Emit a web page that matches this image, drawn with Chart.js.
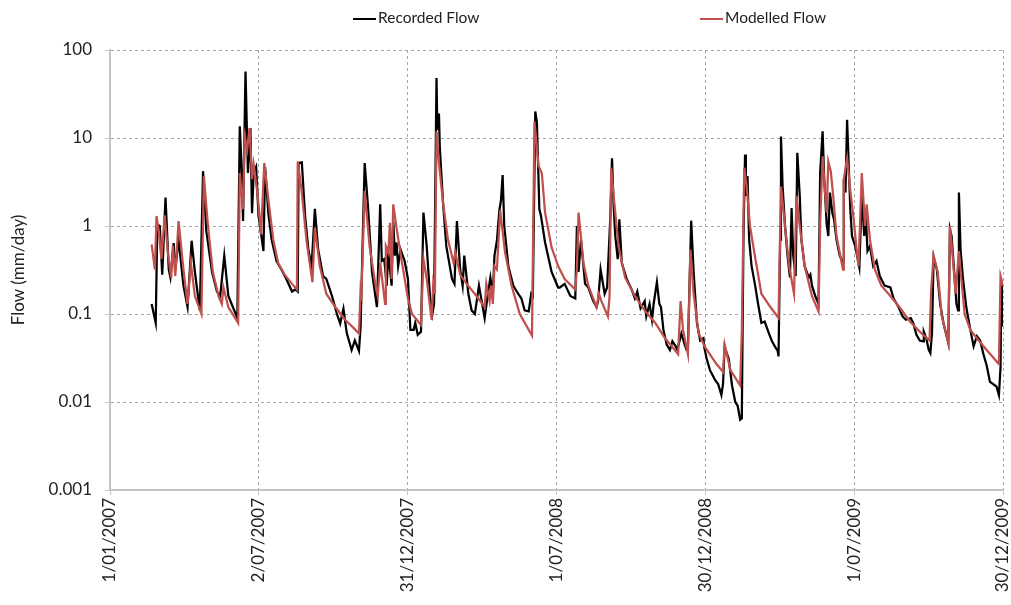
<!DOCTYPE html>
<html>
<head>
<meta charset="utf-8">
<script src="https://cdn.jsdelivr.net/npm/chart.js@4.4.1/dist/chart.umd.min.js"></script>
<style>
    body { margin: 0; background: #fff; font-family: Lato, "Noto Sans", sans-serif; }
    #wrap { position: relative; width: 1011px; height: 605px; }
    .legend-item { position: absolute; top: 8px; font-size: 15.5px; color: #222; line-height: 18px; white-space: nowrap; }
    .legend-item span.swatch { display: inline-block; width: 23px; height: 0; border-top: 2px solid; vertical-align: middle; margin-right: 2px; }
</style>
</head>
<body>
<div id="wrap">
    <canvas id="chartFlow" width="1011" height="605"></canvas>
    <div class="legend-item" style="left:353px"><span class="swatch" style="border-color:#000"></span>Recorded Flow</div>
    <div class="legend-item" style="left:700px"><span class="swatch" style="border-color:#c0504d"></span>Modelled Flow</div>
</div>
<script>
// hari sejak 1/01/2007 dan nilai aliran (mm/hari)
const recordedDays = [51, 56, 58, 61, 64, 68, 72, 74, 78, 80, 84, 90, 95, 100, 104, 110, 114, 118, 125, 131, 135, 140, 145, 149, 156,
    159, 161, 163, 166, 169, 172, 174, 176, 179, 182, 188, 190, 194, 198, 204, 210, 216, 223, 227, 230, 231, 235, 239, 243, 247,
    251, 255, 261, 265, 272, 278, 282, 286, 290, 296, 300, 305, 307, 310, 312, 316, 321, 327, 331, 333, 336, 339, 341, 345, 347,
    349, 351, 353, 356, 361, 365, 368, 372, 374, 377, 381, 384, 388, 392, 395, 397, 400, 401, 403, 404, 408, 412, 419, 422, 425,
    429, 432, 434, 439, 443, 447, 452, 456, 459, 463, 466, 469, 471, 474, 477, 479, 481, 483, 488, 494, 500, 504, 508, 513, 516,
    518, 521, 523, 526, 528, 533, 541, 549, 551, 557, 564, 570, 572, 574, 577, 582, 586, 592, 596, 598, 601, 606, 609, 613, 615,
    617, 619, 622, 624, 627, 633, 639, 643, 646, 650, 655, 657, 661, 664, 666, 670, 673, 675, 678, 682, 686, 689, 693, 695, 700,
    704, 706, 708, 712, 715, 719, 723, 727, 728, 731, 735, 741, 745, 749, 751, 753, 758, 762, 766, 769, 772, 774, 776, 778, 779,
    781, 783, 786, 790, 794, 798, 802, 807, 811, 815, 818, 819, 821, 822, 824, 827, 830, 833, 835, 837, 840, 842, 845, 847, 851,
    856, 858, 860, 864, 868, 870, 873, 875, 878, 880, 882, 885, 887, 890, 894, 898, 899, 901, 903, 907, 909, 913, 918, 921, 924,
    926, 928, 931, 935, 939, 943, 949, 956, 960, 966, 971, 975, 981, 984, 988, 992, 996, 997, 1000, 1003, 1005, 1007, 1009, 1013,
    1017, 1021, 1025, 1027, 1029, 1031, 1034, 1037, 1039, 1040, 1042, 1045, 1049, 1054, 1058, 1062, 1066, 1070, 1074, 1078, 1082,
    1086, 1089, 1091, 1092, 1093, 1094];
const recordedFlow = [0.13, 0.079, 1.05, 1.0, 0.28, 2.1, 0.32, 0.26, 0.64, 0.32, 0.7, 0.21, 0.12, 0.68, 0.30, 0.11, 4.2, 0.88, 0.30, 0.18, 0.16, 0.46, 0.16, 0.13, 0.09,
    13.6, 5.3, 1.14, 57, 4.0, 13, 1.4, 4.0, 4.7, 1.3, 0.52, 4.7, 1.4, 0.7, 0.4, 0.32, 0.25, 0.18, 0.19, 0.18, 5.2, 5.3, 1.3, 0.54, 0.35,
    1.57, 0.54, 0.27, 0.25, 0.16, 0.1, 0.078, 0.115, 0.061, 0.039, 0.05, 0.038, 0.072, 1.0, 5.2, 1.7, 0.30, 0.12, 1.76, 0.4, 0.42, 0.21, 0.5, 0.21, 1.14,
    0.46, 0.65, 0.35, 0.54, 0.4, 0.25, 0.066, 0.066, 0.079, 0.058, 0.063, 1.42, 0.59, 0.16, 0.1, 0.13, 48, 12.4, 19, 8, 1.84, 0.59, 0.25, 0.22, 1.14,
    0.32, 0.21, 0.46, 0.17, 0.11, 0.1, 0.21, 0.13, 0.09, 0.17, 0.26, 0.17, 0.46, 0.68, 1.5, 1.97, 3.8, 1.0, 0.35, 0.21, 0.17, 0.15, 0.11, 0.107, 0.17,
    0.16, 20, 15, 1.55, 1.3, 0.65, 0.3, 0.2, 0.2, 0.22, 0.16, 0.15, 1.0, 0.3, 0.7, 0.22, 0.2, 0.14, 0.12, 0.14, 0.32, 0.17, 0.2, 1.3, 5.9,
    1.7, 0.77, 0.42, 1.19, 0.38, 0.25, 0.19, 0.15, 0.18, 0.116, 0.14, 0.094, 0.13, 0.086, 0.13, 0.23, 0.13, 0.12, 0.066, 0.045, 0.039, 0.049, 0.043, 0.039, 0.06,
    0.045, 0.04, 0.042, 1.15, 0.3, 0.08, 0.05, 0.053, 0.042, 0.031, 0.023, 0.018, 0.016, 0.012, 0.016, 0.042, 0.031, 0.0155, 0.01, 0.009, 0.0063, 0.0065, 0.7, 6.5, 2.2,
    3.7, 0.7, 0.35, 0.22, 0.13, 0.079, 0.082, 0.061, 0.049, 0.042, 0.038, 0.033, 0.7, 10.4, 2.8, 1.0, 0.46, 0.26, 1.6, 0.46, 0.27, 6.8, 2.2, 0.7, 0.35,
    0.26, 0.28, 0.21, 0.16, 0.13, 4.0, 11.9, 3.4, 1.05, 0.77, 2.4, 1.4, 1.19, 0.7, 0.46, 0.38, 3.4, 2.4, 16.1, 1.5, 0.77, 0.59, 0.34, 2.3, 0.77,
    1.3, 0.52, 0.59, 0.35, 0.4, 0.27, 0.21, 0.2, 0.15, 0.12, 0.094, 0.086, 0.09, 0.079, 0.058, 0.05, 0.049, 0.063, 0.053, 0.039, 0.036, 0.061, 0.44, 0.32,
    0.13, 0.079, 0.056, 0.047, 0.92, 0.77, 0.32, 0.13, 0.11, 2.4, 0.54, 0.25, 0.12, 0.066, 0.043, 0.056, 0.05, 0.035, 0.026, 0.017, 0.016,
    0.015, 0.012, 0.025, 0.23, 0.22, 0.072];

const modelledDays = [51, 55, 57, 60, 63, 67, 71, 75, 77, 80, 84, 90, 95, 99, 104, 112, 115, 120, 126, 133, 137, 139, 145, 157, 159,
    163, 165, 168, 171, 174, 176, 181, 185, 189, 194, 200, 206, 214, 223, 229, 230, 235, 241, 248, 251, 257, 265, 276, 288, 298,
    305, 307, 308, 312, 318, 325, 328, 331, 337, 338, 341, 343, 345, 347, 351, 357, 365, 370, 381, 384, 388, 394, 396, 398, 400,
    403, 408, 414, 421, 423, 429, 437, 449, 459, 461, 465, 467, 469, 471, 474, 478, 484, 492, 502, 517, 520, 525, 529, 533, 541,
    549, 557, 570, 572, 574, 580, 586, 596, 599, 602, 610, 612, 614, 617, 623, 631, 643, 655, 668, 680, 690, 696, 699, 702, 708,
    711, 715, 721, 729, 743, 751, 753, 760, 772, 774, 777, 780, 784, 790, 798, 809, 819, 822, 827, 832, 838, 841, 845, 851, 860,
    868, 870, 873, 876, 878, 880, 883, 886, 890, 898, 899, 903, 907, 911, 915, 917, 921, 925, 927, 931, 937, 945, 956, 968, 980,
    992, 1004, 1006, 1009, 1014, 1019, 1027, 1029, 1032, 1036, 1040, 1043, 1047, 1054, 1062, 1074, 1089, 1091, 1094];
const modelledFlow = [0.62, 0.32, 1.3, 0.84, 0.42, 1.32, 0.49, 0.26, 0.6, 0.27, 1.14, 0.32, 0.13, 0.38, 0.16, 0.1, 3.7, 1.0, 0.3, 0.16, 0.13, 0.2, 0.12, 0.079, 4.0,
    1.55, 10.5, 7.4, 13, 3.4, 5.0, 2.2, 0.8, 5.2, 2.0, 0.7, 0.38, 0.28, 0.22, 0.19, 5.4, 2.4, 0.65, 0.23, 0.96, 0.35, 0.17, 0.12, 0.086, 0.07,
    0.06, 0.19, 0.17, 2.5, 0.59, 0.22, 0.16, 0.38, 0.13, 0.59, 0.5, 1.09, 0.25, 1.76, 0.96, 0.42, 0.15, 0.1, 0.075, 0.42, 0.25, 0.086, 0.22, 0.17, 11.9,
    5.2, 1.84, 0.7, 0.38, 0.5, 0.28, 0.22, 0.16, 0.12, 0.22, 0.14, 0.21, 0.13, 0.35, 0.32, 1.5, 0.5, 0.21, 0.1, 0.057, 15.5, 4.8, 4.0, 1.42, 0.57,
    0.35, 0.25, 0.19, 0.32, 1.42, 0.38, 0.21, 0.12, 0.17, 0.14, 0.094, 0.16, 4.6, 2.2, 0.59, 0.26, 0.16, 0.11, 0.079, 0.053, 0.041, 0.035, 0.14, 0.066, 0.035,
    0.54, 0.17, 0.061, 0.042, 0.027, 0.022, 0.045, 0.023, 0.0155, 0.061, 4.6, 2.8, 1.0, 0.46, 0.17, 0.12, 0.09, 2.8, 1.0, 0.35, 0.17, 2.2, 1.0, 0.35, 0.16,
    0.107, 1.09, 6.2, 2.4, 1.42, 5.4, 4.2, 2.2, 0.77, 0.32, 3.4, 5.9, 2.5, 1.2, 0.5, 0.35, 4.0, 1.0, 1.76, 0.7, 0.32, 0.21, 0.16, 0.117, 0.082,
    0.063, 0.05, 0.19, 0.46, 0.30, 0.094, 0.047, 1.0, 0.5, 0.17, 0.52, 0.25, 0.1, 0.066, 0.053, 0.039, 0.027, 0.27, 0.21];

// posisi label sumbu-x (hari) dan teks tanggalnya
const tickDays = [0, 182, 364, 547, 729, 912, 1094];
const tickLabels = ['1/01/2007', '2/07/2007', '31/12/2007', '1/07/2008', '30/12/2008', '1/07/2009', '30/12/2009'];
const yTicks = [0.001, 0.01, 0.1, 1, 10, 100];

function toPoints(days, values) {
    return days.map((d, i) => ({ x: d, y: values[i] }));
}

const gridOpts = { color: '#a6a6a6', tickColor: '#c4c4c4', tickLength: 5 };
const textColor = '#222';

new Chart(document.getElementById('chartFlow').getContext('2d'), {
    type: 'line',
    data: {
        datasets: [{
            label: 'Modelled Flow',
            data: toPoints(modelledDays, modelledFlow),
            borderColor: '#c0504d',
            borderWidth: 2.25,
            pointRadius: 0,
            tension: 0,
            order: 0
        }, {
            label: 'Recorded Flow',
            data: toPoints(recordedDays, recordedFlow),
            borderColor: '#000000',
            borderWidth: 2.25,
            pointRadius: 0,
            tension: 0,
            order: 1
        }]
    },
    options: {
        responsive: false,
        animation: false,
        devicePixelRatio: 1,
        layout: { padding: { top: 50, right: 8, bottom: 0, left: 0 } },
        plugins: {
            legend: { display: false },
            tooltip: { enabled: false }
        },
        scales: {
            x: {
                type: 'linear',
                min: 0,
                max: 1094,
                afterBuildTicks: scale => { scale.ticks = tickDays.map(v => ({ value: v })); },
                afterFit: scale => {
                    scale.height = 115;
                    // jangan biarkan label terakhir menggeser area grafik
                    scale.paddingLeft = 0;
                    scale.paddingRight = 0;
                },
                ticks: {
                    autoSkip: false,
                    minRotation: 90,
                    maxRotation: 90,
                    padding: 3,
                    color: textColor,
                    font: { family: 'Lato', size: 17 },
                    callback: value => tickLabels[tickDays.indexOf(value)]
                },
                grid: gridOpts,
                border: { color: '#c4c4c4', width: 2, dash: [3, 3] }
            },
            y: {
                type: 'logarithmic',
                min: 0.001,
                max: 100,
                afterBuildTicks: scale => { scale.ticks = yTicks.map(v => ({ value: v })); },
                afterFit: scale => {
                    scale.width = 110;
                    scale.paddingTop = 0;
                    scale.paddingBottom = 0;
                },
                ticks: {
                    padding: 13,
                    color: textColor,
                    font: { family: 'Lato', size: 17 },
                    callback: value => String(value)
                },
                grid: gridOpts,
                border: { color: '#c4c4c4', width: 2, dash: [3, 3] },
                title: {
                    display: true,
                    text: 'Flow (mm/day)',
                    color: textColor,
                    font: { family: 'Lato', size: 17 },
                    padding: { top: 8, bottom: 0 }
                }
            }
        }
    }
});
</script>
</body>
</html>
